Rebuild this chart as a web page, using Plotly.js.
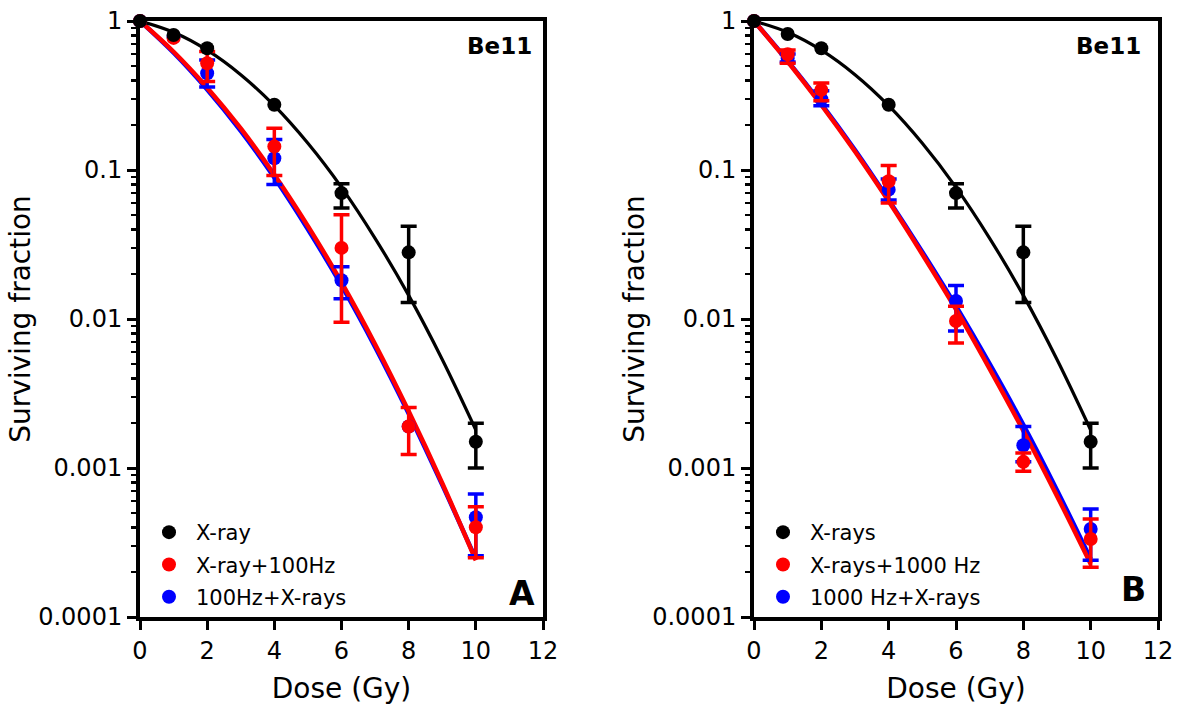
<!DOCTYPE html>
<html>
<head>
<meta charset="utf-8">
<script src="https://cdn.plot.ly/plotly-3.0.1.min.js"></script>
<style>html,body{margin:0;padding:0;background:#fff;}#chart{width:1180px;height:710px;}</style>
</head>
<body>
<div id="chart"></div>
<script>
// ---- data ----
const dose = [0, 1, 2, 4, 6, 8, 10];
const fitDose = [0, 1, 2, 3, 4, 5, 6, 7, 8, 9, 10];

// Panel A
const xrayA    = [1, 0.806, 0.656, 0.274, 0.070, 0.028, 0.0015];
const xrayA_hi = [null, null, null, null, 0.081, 0.042, 0.0020];
const xrayA_lo = [null, null, null, null, 0.0556, 0.0129, 0.0010];

const xr100    = [1, 0.77, 0.52, 0.144, 0.030, 0.0019, 0.00040];
const xr100_hi = [null, null, 0.623, 0.191, 0.050, 0.00255, 0.00055];
const xr100_lo = [null, null, 0.392, 0.092, 0.0095, 0.00123, 0.00025];

const hz100xr    = [1, 0.78, 0.446, 0.120, 0.0182, 0.0019, 0.000467];
const hz100xr_hi = [null, null, 0.548, 0.160, 0.0224, null, 0.00067];
const hz100xr_lo = [null, null, 0.360, 0.080, 0.0137, null, 0.000258];

const fitXrayA  = [1, 0.840, 0.637, 0.436, 0.270, 0.151, 0.0765, 0.0348, 0.0144, 0.00535, 0.0018];
const fitXr100  = [1, 0.622, 0.357, 0.190, 0.093, 0.042, 0.0176, 0.00677, 0.0024, 0.00079, 0.00024];
const fitHz100  = [1, 0.612, 0.347, 0.183, 0.089, 0.040, 0.0168, 0.0065, 0.00232, 0.00077, 0.000245];

// Panel B
const xrayB    = [1, 0.818, 0.656, 0.274, 0.070, 0.028, 0.0015];
const xrayB_hi = [null, null, null, null, 0.081, 0.042, 0.0020];
const xrayB_lo = [null, null, null, null, 0.0556, 0.0129, 0.0010];

const xr1000    = [1, 0.598, 0.345, 0.084, 0.0097, 0.0011, 0.000334];
const xr1000_hi = [null, 0.64, 0.383, 0.107, 0.0122, 0.00126, 0.000455];
const xr1000_lo = [null, 0.52, 0.292, 0.060, 0.0069, 0.00095, 0.000216];

const hz1000xr    = [1, 0.563, 0.299, 0.0738, 0.0132, 0.00142, 0.00039];
const hz1000xr_hi = [null, 0.60, 0.34, 0.087, 0.0168, 0.0019, 0.00053];
const hz1000xr_lo = [null, 0.53, 0.27, 0.063, 0.0083, 0.0011, 0.00024];

const fitXrayB  = [1, 0.840, 0.637, 0.436, 0.270, 0.151, 0.0765, 0.0348, 0.0144, 0.00535, 0.0018];
const fitXr1000 = [1, 0.535, 0.273, 0.133, 0.0616, 0.0272, 0.0116, 0.00463, 0.00178, 0.00065, 0.000227];
const fitHz1000 = [1, 0.540, 0.278, 0.136, 0.063, 0.0282, 0.0122, 0.0050, 0.00195, 0.00071, 0.000245];

const yTickVals = [0.0001, 0.001, 0.01, 0.1, 1];
const yTickText = ['0.0001', '0.001', '0.01', '0.1', '1'];
const xTickVals = [0, 2, 4, 6, 8, 10, 12];
const xTickText = ['0', '2', '4', '6', '8', '10', '12'];

const namesA = ['X-ray', 'X-ray+100Hz', '100Hz+X-rays'];
const namesB = ['X-rays', 'X-rays+1000 Hz', '1000 Hz+X-rays'];

// ---- styling ----
const BLACK = '#000000', RED = '#ff0000', BLUE = '#0000ff';
const FONT = 'DejaVu Sans, Liberation Sans, Arial, sans-serif';

function errs(vals, hi, lo) {
  return {
    type: 'data', symmetric: false,
    array: vals.map((v, i) => hi[i] == null ? NaN : hi[i] - v),
    arrayminus: vals.map((v, i) => lo[i] == null ? NaN : v - lo[i])
  };
}
function fitTrace(y, color, width, xa, ya) {
  return { x: fitDose, y: y, xaxis: xa, yaxis: ya, mode: 'lines', type: 'scatter',
    line: { color: color, width: width, shape: 'spline' }, showlegend: false,
    hoverinfo: 'skip', cliponaxis: false };
}
function ptTrace(y, hi, lo, color, name, rank, xa, ya, leg) {
  const e = errs(y, hi, lo);
  e.color = color; e.thickness = 3.5; e.width = 8;
  return { x: dose, y: y, xaxis: xa, yaxis: ya, mode: 'markers', type: 'scatter', name: name,
    marker: { color: color, size: 14 }, error_y: e, legend: leg, legendrank: rank,
    legendgroup: leg + name, cliponaxis: false };
}

const data = [
  fitTrace(fitHz100, BLUE, 4.5, 'x', 'y'),
  fitTrace(fitXr100, RED, 4.5, 'x', 'y'),
  fitTrace(fitXrayA, BLACK, 3.2, 'x', 'y'),
  ptTrace(hz100xr, hz100xr_hi, hz100xr_lo, BLUE, namesA[2], 3, 'x', 'y', 'legend'),
  ptTrace(xr100, xr100_hi, xr100_lo, RED, namesA[1], 2, 'x', 'y', 'legend'),
  ptTrace(xrayA, xrayA_hi, xrayA_lo, BLACK, namesA[0], 1, 'x', 'y', 'legend'),

  fitTrace(fitHz1000, BLUE, 4.5, 'x2', 'y2'),
  fitTrace(fitXr1000, RED, 4.5, 'x2', 'y2'),
  fitTrace(fitXrayB, BLACK, 3.2, 'x2', 'y2'),
  ptTrace(hz1000xr, hz1000xr_hi, hz1000xr_lo, BLUE, namesB[2], 3, 'x2', 'y2', 'legend2'),
  ptTrace(xr1000, xr1000_hi, xr1000_lo, RED, namesB[1], 2, 'x2', 'y2', 'legend2'),
  ptTrace(xrayB, xrayB_hi, xrayB_lo, BLACK, namesB[0], 1, 'x2', 'y2', 'legend2')
];

function xAxis(domain, anchor) {
  return { domain: domain, anchor: anchor, range: [0, 12], tickmode: 'array',
    tickvals: xTickVals, ticktext: xTickText, ticks: 'outside', ticklen: 9, tickwidth: 3,
    tickcolor: BLACK, showline: true, linewidth: 4, linecolor: BLACK, mirror: true,
    showgrid: false, zeroline: false, tickfont: { family: FONT, size: 24, color: BLACK },
    title: { text: 'Dose (Gy)', font: { family: FONT, size: 28, color: BLACK }, standoff: 16 },
    automargin: false, fixedrange: true };
}
function yAxis(domain, anchor) {
  return { domain: domain, anchor: anchor, type: 'log', range: [-4, 0], tickmode: 'array',
    tickvals: yTickVals, ticktext: yTickText, ticks: 'outside', ticklen: 9, tickwidth: 3,
    tickcolor: BLACK, showline: true, linewidth: 4, linecolor: BLACK, mirror: true,
    showgrid: false, zeroline: false, tickfont: { family: FONT, size: 24, color: BLACK },
    minor: { ticks: 'outside', ticklen: 5, tickwidth: 2.5, tickcolor: BLACK, dtick: 'D1', showgrid: false },
    title: { text: 'Surviving fraction', font: { family: FONT, size: 28, color: BLACK }, standoff: 0 },
    automargin: false, fixedrange: true };
}

const W = 1180, H = 710;
const yDom = [1 - 617 / H, 1 - 21 / H];

const legendBase = {
  bgcolor: 'rgba(0,0,0,0)', borderwidth: 0, font: { family: FONT, size: 21, color: BLACK },
  xanchor: 'left', yanchor: 'bottom', tracegroupgap: 2, traceorder: 'grouped', itemclick: false,
  itemwidth: 44
};

const layout = {
  width: W, height: H, margin: { l: 0, r: 0, t: 0, b: 0 },
  paper_bgcolor: '#ffffff', plot_bgcolor: '#ffffff',
  font: { family: FONT, color: BLACK },
  xaxis: xAxis([140 / W, 543 / W], 'y'),
  yaxis: yAxis(yDom, 'x'),
  xaxis2: xAxis([754 / W, 1158 / W], 'y2'),
  yaxis2: yAxis(yDom, 'x2'),
  legend: Object.assign({}, legendBase, { x: 142 / W, y: 1 - 617 / H }),
  legend2: Object.assign({}, legendBase, { x: 756 / W, y: 1 - 617 / H }),
  annotations: [
    { xref: 'x domain', yref: 'y domain', x: 0.977, y: 0.958, xanchor: 'right', yanchor: 'middle',
      text: '<b>Be11</b>', showarrow: false, font: { family: FONT, size: 23, color: BLACK } },
    { xref: 'x domain', yref: 'y domain', x: 0.985, y: 0.04, xanchor: 'right', yanchor: 'middle',
      text: '<b>A</b>', showarrow: false, font: { family: FONT, size: 33, color: BLACK } },
    { xref: 'x2 domain', yref: 'y2 domain', x: 0.963, y: 0.958, xanchor: 'right', yanchor: 'middle',
      text: '<b>Be11</b>', showarrow: false, font: { family: FONT, size: 23, color: BLACK } },
    { xref: 'x2 domain', yref: 'y2 domain', x: 0.975, y: 0.046, xanchor: 'right', yanchor: 'middle',
      text: '<b>B</b>', showarrow: false, font: { family: FONT, size: 33, color: BLACK } }
  ],
  showlegend: true
};

Plotly.newPlot('chart', data, layout, { displayModeBar: false, staticPlot: true });
</script>
</body>
</html>
